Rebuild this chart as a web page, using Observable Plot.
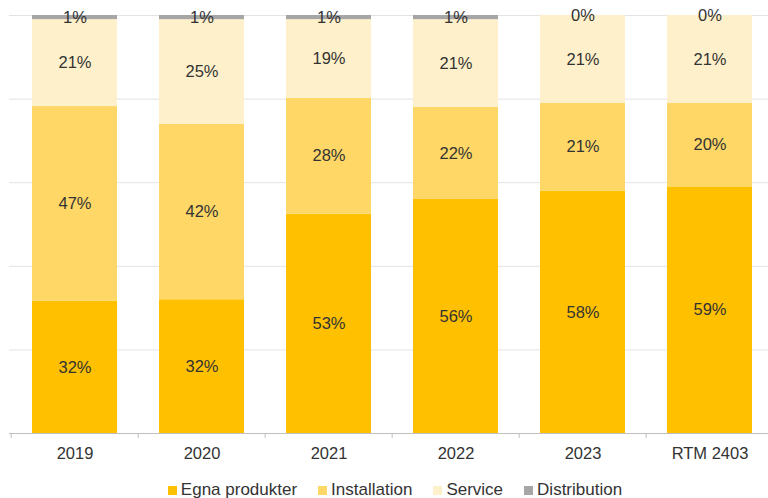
<!DOCTYPE html>
<html>
<head>
<meta charset="utf-8">
<script src="https://cdn.jsdelivr.net/npm/d3@7"></script>
<script src="https://cdn.jsdelivr.net/npm/@observablehq/plot@0.6"></script>
<style>
  html, body { margin: 0; padding: 0; background: #fff; }
  body { width: 768px; height: 498px; overflow: hidden; font-family: "Liberation Sans", Arial, sans-serif; }
  #legend { display: flex; justify-content: center; align-items: center; width: 768px; box-sizing: border-box; padding-left: 22px; margin-top: 8px; font-size: 17px; color: #333; }
  .item { display: flex; align-items: center; margin: 0 10.5px; }
  .sw { width: 9px; height: 9px; margin-right: 4px; }
</style>
</head>
<body>
<div id="chart"></div>
<div id="legend"></div>
<script>
const categories = ["2019", "2020", "2021", "2022", "2023", "RTM 2403"];
const series = ["Egna produkter", "Installation", "Service", "Distribution"];
const egna = [32, 32, 53, 56, 58, 59];
const installation = [47, 42, 28, 22, 21, 20];
const service = [21, 25, 19, 21, 21, 21];
const distribution = [1, 1, 1, 1, 0, 0];
const colors = ["#FFC000", "#FED766", "#FEF0CA", "#A6A6A6"];
const yTicks = [0, 0.2, 0.4, 0.6, 0.8, 1];

const seriesValues = [egna, installation, service, distribution];
const data = [];
categories.forEach((c, i) => {
  series.forEach((s, j) => data.push({cat: c, series: s, value: seriesValues[j][i]}));
});

const W = 768, H = 472;
const x0 = 9, x1 = 775;
const step = (x1 - x0) / categories.length;

const stackOpts = {x: "cat", y: "value", z: "series", order: series, offset: "normalize"};

const chart = Plot.plot({
  width: W,
  height: H,
  marginTop: 15,
  marginBottom: 39,
  marginLeft: x0,
  marginRight: 0,
  style: {fontFamily: "'Liberation Sans', Arial, sans-serif", background: "#fff", overflow: "visible"},
  x: {domain: categories, range: [x0, x1], paddingInner: 0.33, paddingOuter: 0.165, label: null, axis: null},
  y: {domain: [0, 1], label: null, axis: null},
  color: {domain: series, range: colors},
  marks: [
    Plot.ruleY(yTicks.filter(d => d > 0), {stroke: "#e3e3e3", strokeWidth: 1}),
    Plot.barY(data, Plot.stackY({...stackOpts, fill: "series"})),
    Plot.ruleY([0], {stroke: "#bfbfbf", strokeWidth: 1}),
    Plot.axisX({tickSize: 5, tickFormat: () => "", dx: -step / 2, stroke: "#bfbfbf"}),
    Plot.axisX({tickSize: 0, tickPadding: 14, fontSize: 16.5, fill: "#333"}),
    Plot.text(data, Plot.stackY({...stackOpts, text: d => d.value + "%", fill: "#333", fontSize: 16.5}))
  ]
});
document.getElementById("chart").appendChild(chart);

const lg = document.getElementById("legend");
series.forEach((s, j) => {
  const it = document.createElement("div");
  it.className = "item";
  const sw = document.createElement("span");
  sw.className = "sw";
  sw.style.background = colors[j];
  const t = document.createElement("span");
  t.textContent = s;
  it.appendChild(sw); it.appendChild(t);
  lg.appendChild(it);
});
</script>
</body>
</html>
